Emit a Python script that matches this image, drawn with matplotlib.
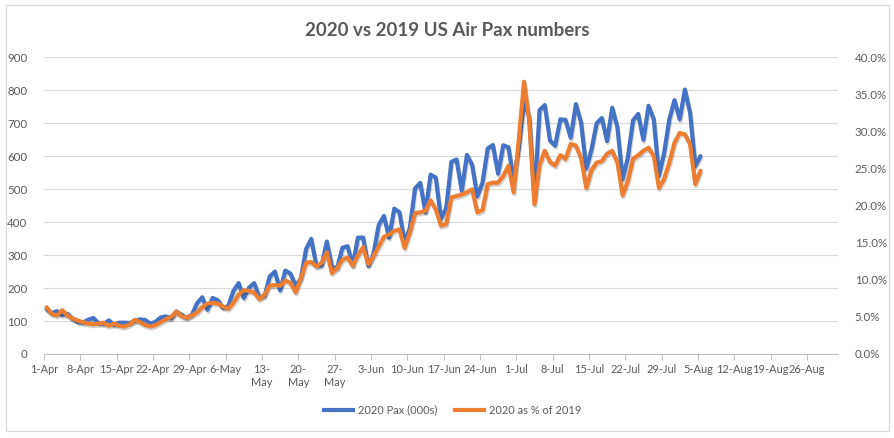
import numpy as np
import matplotlib
matplotlib.use('Agg')
import matplotlib.pyplot as plt
import matplotlib.patheffects as pe
from matplotlib.ticker import FuncFormatter, FixedLocator, MultipleLocator
from matplotlib.patches import Rectangle
from matplotlib.lines import Line2D

plt.rcParams['font.family'] = ['Lato', 'DejaVu Sans']

# ---------------- data (1-Apr-2020 .. 5-Aug-2020, daily) ----------------
pax_2020 = [136, 124, 130, 118, 122, 108, 97, 95, 104, 109,
            94, 91, 102, 88, 95, 95, 94, 100, 105, 103,
            92, 98, 111, 114, 108, 129, 119, 110, 119, 154,
            172, 134, 170, 163, 140, 145, 191, 215, 170, 201,
            215, 172, 176, 235, 250, 193, 253, 244, 207, 229,
            318, 349, 267, 268, 341, 264, 261, 322, 327, 269,
            353, 353, 267, 304, 391, 419, 353, 441, 430, 338,
            383, 502, 519, 430, 544, 535, 410, 442, 583, 590,
            495, 604, 574, 478, 520, 623, 634, 547, 633, 627,
            526, 626, 764, 719, 470, 740, 755, 648, 632, 712,
            710, 656, 758, 702, 562, 620, 700, 716, 646, 747,
            687, 530, 595, 708, 728, 650, 753, 712, 541, 610,
            712, 770, 712, 802, 732, 570, 600]

pct_of_2019 = [6.3, 5.4, 5.2, 5.9, 5.2, 4.8, 4.5, 4.3, 4.1, 4.0,
               4.1, 4.2, 3.8, 4.1, 3.8, 3.7, 4.0, 4.6, 4.3, 3.9,
               3.7, 3.9, 4.3, 4.7, 5.0, 5.7, 5.1, 4.9, 5.2, 5.6,
               6.3, 6.8, 6.9, 6.8, 6.4, 6.1, 6.9, 8.0, 8.6, 8.5,
               8.3, 7.4, 8.0, 9.2, 9.3, 9.2, 9.9, 9.6, 8.3, 10.2,
               12.3, 12.4, 11.8, 12.3, 13.7, 10.9, 11.6, 12.7, 13.0, 11.9,
               13.3, 14.4, 12.1, 13.2, 14.5, 15.8, 16.1, 16.6, 16.8, 14.3,
               16.4, 19.0, 19.1, 19.3, 20.7, 19.5, 17.3, 17.5, 21.1, 21.3,
               21.5, 21.8, 22.2, 19.1, 19.4, 22.9, 23.1, 23.1, 24.0, 25.4,
               21.8, 29.0, 36.7, 31.5, 20.2, 25.5, 27.4, 25.9, 25.4, 26.8,
               26.3, 28.3, 28.1, 26.4, 22.4, 24.8, 25.8, 26.0, 27.0, 27.4,
               25.8, 21.4, 23.3, 26.3, 26.8, 27.4, 27.8, 26.7, 22.4, 23.6,
               25.8, 28.5, 29.8, 29.6, 28.3, 22.9, 24.7]

tick_labels = ['1-Apr', '8-Apr', '15-Apr', '22-Apr', '29-Apr', '6-May',
               '13-\nMay', '20-\nMay', '27-\nMay', '3-Jun', '10-Jun', '17-Jun',
               '24-Jun', '1-Jul', '8-Jul', '15-Jul', '22-Jul', '29-Jul',
               '5-Aug', '12-Aug', '19-Aug', '26-Aug']

series_names = ['2020 Pax (000s)', '2020 as % of 2019']
title = '2020 vs 2019 US Air Pax numbers'

# ---------------- styling ----------------
BLUE = '#4472C4'
ORANGE = '#ED7D31'
TXT = '#595959'
GRID = '#D9D9D9'

W, H = 895, 438
fig = plt.figure(figsize=(W / 100, H / 100), dpi=100)
fig.patch.set_facecolor('white')

ax = fig.add_axes([44 / W, (H - 354) / H, 794 / W, 296.7 / H])
ax2 = ax.twinx()

day_pos = np.arange(len(pax_2020)) + 0.5
pct = np.array(pct_of_2019) / 100.0

shadow = [pe.SimpleLineShadow(offset=(0.6, -1.4), shadow_color='#000000', alpha=0.18),
          pe.Normal()]

ax.plot(day_pos, pax_2020, color=BLUE, lw=3.0, solid_joinstyle='round',
        solid_capstyle='round', path_effects=shadow, zorder=3)
ax2.plot(day_pos, pct, color=ORANGE, lw=3.0, solid_joinstyle='round',
         solid_capstyle='round', path_effects=shadow, zorder=3)

# x axis
ax.set_xlim(0, 153)
ticks = np.arange(0, 7 * len(tick_labels), 7)
ax.xaxis.set_major_locator(FixedLocator(ticks))
ax.set_xticklabels(tick_labels, fontsize=7.9, color=TXT, linespacing=1.3)
ax.tick_params(axis='x', direction='out', length=4, width=0.8, color='#BFBFBF', pad=3)

# left y axis
ax.set_ylim(0, 900)
ax.yaxis.set_major_locator(MultipleLocator(100))
ax.tick_params(axis='y', length=0, pad=12, labelsize=8.3, labelcolor=TXT)
ax.grid(axis='y', color=GRID, lw=0.8)
ax.set_axisbelow(True)

# right y axis
ax2.set_ylim(0, 0.40)
ax2.yaxis.set_major_locator(MultipleLocator(0.05))
ax2.yaxis.set_major_formatter(FuncFormatter(lambda v, p: f'{v * 100:.1f}%'))
ax2.tick_params(axis='y', length=0, pad=12, labelsize=8.3, labelcolor=TXT)

for a in (ax, ax2):
    for s in ('top', 'left', 'right', 'bottom'):
        a.spines[s].set_visible(False)
ax.spines['bottom'].set_visible(True)
ax.spines['bottom'].set_color('#BFBFBF')
ax.spines['bottom'].set_linewidth(0.8)

# title
fig.text(447 / W, 1 - 30 / H, title, ha='center', va='center', fontsize=13.5,
         fontweight='bold', color=TXT)

# legend
handles = [Line2D([0], [0], color=BLUE, lw=3.0), Line2D([0], [0], color=ORANGE, lw=3.0)]
fig.legend(handles, series_names, loc='center', bbox_to_anchor=(453 / W, 1 - 410 / H),
           ncol=2, frameon=False, fontsize=7.9, handlelength=2.6, columnspacing=1.6,
           handletextpad=0.5, labelcolor=TXT)

# outer border
fig.patches.append(Rectangle((6 / W, 7 / H), 883 / W, 426 / H, transform=fig.transFigure,
                             fill=False, edgecolor='#D9D9D9', lw=0.9))

fig.savefig('out.png', dpi=100, facecolor='white')
